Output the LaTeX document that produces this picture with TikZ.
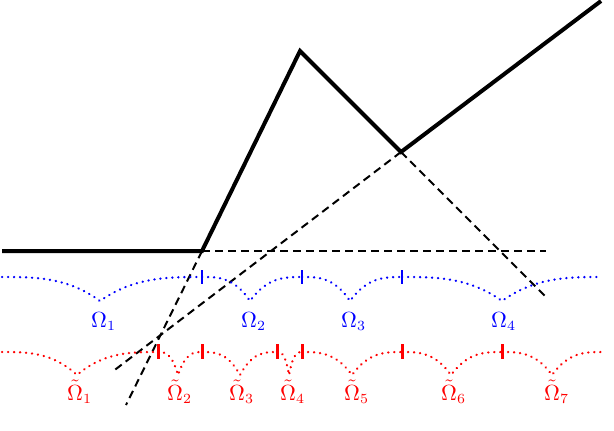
\documentclass[tikz,border=0pt]{standalone}
\usepackage{amsmath}
\begin{document}
\begin{tikzpicture}[x=0.5pt,y=-0.5pt,
  solidline/.style={line width=2pt,line join=miter},
  dashline/.style={line width=1pt,dash pattern=on 4pt off 2.5pt},
  dotblue/.style={blue,line width=1.2pt,line cap=round,dash pattern=on 0.1pt off 2.9pt},
  dotred/.style={red,line width=1.2pt,line cap=round,dash pattern=on 0.1pt off 2.9pt},
  tickblue/.style={blue,line width=1.4pt},
  tickred/.style={red,line width=1.5pt},
  lblblue/.style={blue,anchor=base,inner sep=0pt,xshift=1.8pt,font=\fontsize{10.5}{12}\selectfont},
  lblred/.style={red,anchor=base,inner sep=0pt,xshift=1.8pt,font=\fontsize{10.5}{12}\selectfont}]
\useasboundingbox (0,0) rectangle (614,430);
% main polyline
\coordinate (A) at (2,251);
\coordinate (B) at (202,251);
\coordinate (C) at (300,51);
\coordinate (D) at (401,152);
\coordinate (E) at (601,1);
\coordinate (H) at (546,251);
\coordinate (F) at (112,372);
\coordinate (G) at (546,297);
\coordinate (K) at (126,405);
\draw[solidline] (A) -- (B) -- (C) -- (D) -- (E);
\draw[dashline] (B) -- (H);
\draw[dashline] (D) -- (F);
\draw[dashline] (D) -- (G);
\draw[dashline] (B) -- (K);
% blue dotted arcs
\foreach \a/\m/\b in {2/100/202, 202/250/302, 302/350/402, 402/502/602}{
  \draw[dotblue] (\a,277) .. controls ({\a+(\m-\a)/3},277) and ({\a+2*(\m-\a)/3},277) .. (\m,301)
     .. controls ({\m+(\b-\m)/3},277) and ({\m+2*(\b-\m)/3},277) .. (\b,277);
}
\foreach \x in {202,302,402}{
  \draw[tickblue] (\x,270) -- (\x,284);
}
% red dotted arcs
\foreach \a/\m/\b in {2/77/158, 158/178/202, 202/240/277, 277/289/302, 302/352/402, 402/451/502, 502/552/602}{
  \draw[dotred] (\a,352) .. controls ({\a+(\m-\a)/3},352) and ({\a+2*(\m-\a)/3},352) .. (\m,375)
     .. controls ({\m+(\b-\m)/3},352) and ({\m+2*(\b-\m)/3},352) .. (\b,352);
}
\foreach \x in {158,202,277,302,402,502}{
  \draw[tickred] (\x,344) -- (\x,359);
}
% labels
\node[lblblue] (o1) at (100,327) {$\Omega_1$};
\node[lblblue] (o2) at (250,327) {$\Omega_2$};
\node[lblblue] (o3) at (350,327) {$\Omega_3$};
\node[lblblue] (o4) at (500,327) {$\Omega_4$};
\node[lblred] (t1) at (76,400) {$\tilde{\Omega}_1$};
\node[lblred] (t2) at (176,400) {$\tilde{\Omega}_2$};
\node[lblred] (t3) at (238,400) {$\tilde{\Omega}_3$};
\node[lblred] (t4) at (289,400) {$\tilde{\Omega}_4$};
\node[lblred] (t5) at (353,400) {$\tilde{\Omega}_5$};
\node[lblred] (t6) at (450,400) {$\tilde{\Omega}_6$};
\node[lblred] (t7) at (553,400) {$\tilde{\Omega}_7$};
\end{tikzpicture}
\end{document}
